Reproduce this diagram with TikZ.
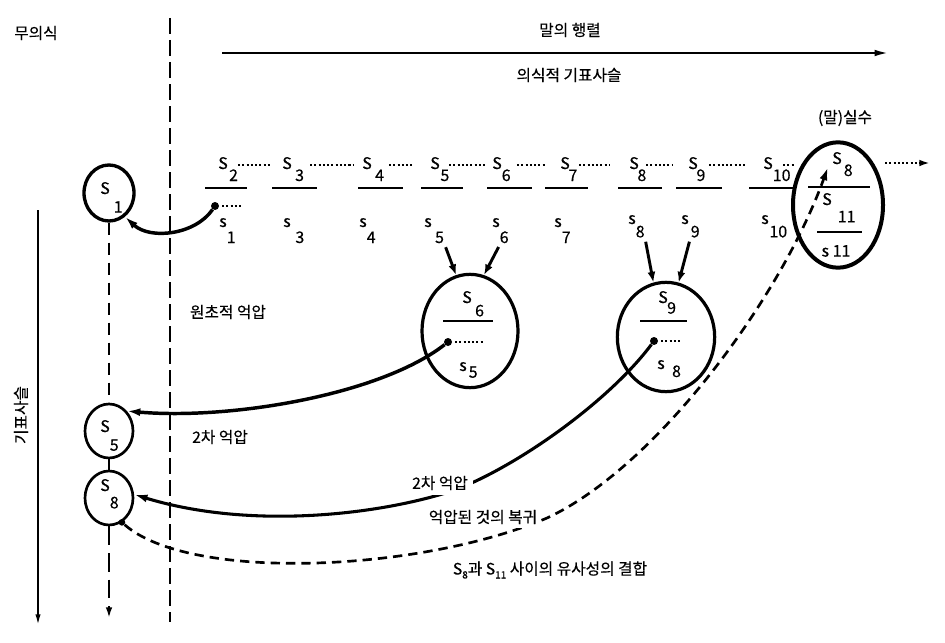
\documentclass[tikz,border=0pt]{standalone}
\usepackage{fontspec}
\setmainfont{Noto Sans CJK KR}[FakeBold=0.35]
\usetikzlibrary{arrows.meta,shapes.geometric}

% signifier label: letter, then a lowered index
\newcommand{\sig}[4][1pt]{#2\kern#1\raisebox{-#4}{#3}}
\newcommand{\low}[1]{\raisebox{-3pt}{\fontsize{7.5}{8}\selectfont #1}}

\tikzset{
  txt/.style={inner sep=0pt, font=\fontsize{11.8}{13}\selectfont},
  lab/.style={inner sep=0pt, anchor=base west, font=\fontsize{12}{13}\selectfont},
  blob/.style={draw, ellipse, line width=2pt, inner sep=0pt},
  bar/.style={line width=2.2pt},
  dotrow/.style={line width=1.6pt, dash pattern=on 1.6pt off 1.6pt},
  knob/.style={circle, fill, inner sep=0pt, minimum size=6pt},
  heavy/.style={line width=2.6pt, -{Latex[length=10pt,width=6pt]}},
  feed/.style={line width=2.2pt, shorten <=3pt, -{Latex[length=8pt,width=6pt]}},
  gap/.style={txt, fill=white, inner sep=3pt}
}

\begin{document}
\begin{tikzpicture}[x=0.75pt, y=-0.75pt]
    \useasboundingbox (0,0) rectangle (945,642);

    % headings
    \node[txt] (uncon) at (36,33) {무의식};
    \node[txt] (matrix) at (570,30) {말의 행렬};
    \node[txt] (chain) at (569,75) {의식적 기표사슬};
    \node[txt] (slipt) at (845,118) {(말)실수};
    \node[txt, rotate=90] (chainL) at (21,415) {기표사슬};

    \coordinate (m0) at (222,53);
    \coordinate (m1) at (888,53);
    \draw[line width=1.5pt, -{Latex[length=10pt,width=5pt]}] (m0) -- (m1);

    \coordinate (wall0) at (170,18);
    \coordinate (wall1) at (170,622);
    \draw[line width=1.3pt, dash pattern=on 12pt off 4.5pt] (wall0) -- (wall1);

    \coordinate (c0) at (38,210);
    \coordinate (c1) at (38,625);
    \draw[line width=1.3pt, -{Latex[length=8pt,width=4pt]}] (c0) -- (c1);

    % unconscious column
    \node[blob, line width=2.5pt, minimum width=37.5pt, minimum height=42pt] (u1) at (109,193) {};
    \node[blob, minimum width=36pt, minimum height=40.5pt] (u5) at (109,431) {};
    \node[blob, minimum width=36pt, minimum height=40.5pt] (u8) at (109,498) {};
    \node[lab] (u1t) at (100,194) {\sig[3pt]{S}{1}{14pt}};
    \node[lab] (u5t) at (100,432) {\sig[0pt]{S}{5}{14pt}};
    \node[lab] (u8t) at (100,491) {\sig[0pt]{S}{8}{13pt}};
    \coordinate (uend) at (109,618);

    \draw[line width=1.5pt, dash pattern=on 9pt off 6pt] (u1) -- (u5);
    \draw[line width=1.5pt] (u5) -- (u8);
    \draw[line width=1.5pt, dash pattern=on 14pt off 6pt, -{Latex[length=8pt,width=5pt]}] (u8) -- (uend);

    % conscious chain: upper signifiers
    \node[lab] (t2) at (218,169) {\sig{S}{2}{9pt}};
    \node[lab] (t3) at (282,169) {\sig[2.5pt]{S}{3}{9pt}};
    \node[lab] (t4) at (362,169) {\sig[2.5pt]{S}{4}{9pt}};
    \node[lab] (t5) at (430,169) {\sig[0.5pt]{S}{5}{9pt}};
    \node[lab] (t6) at (492,169) {\sig[0pt]{S}{6}{9pt}};
    \node[lab] (t7) at (560,169) {\sig[-1pt]{S}{7}{9pt}};
    \node[lab] (t8) at (629,169) {\sig[-1pt]{S}{8}{9pt}};
    \node[lab] (t9) at (688,169) {\sig[-1pt]{S}{9}{9pt}};
    \node[lab] (t10) at (763,169) {\sig[0pt]{S}{10}{9pt}};

    \draw[dotrow] (238,165) -- (272,165);
    \draw[dotrow] (310,165) -- (353,165);
    \draw[dotrow] (389,165) -- (412,165);
    \draw[dotrow] (449,165) -- (485,165);
    \draw[dotrow] (517,165) -- (545,165);
    \draw[dotrow] (579,165) -- (610,165);
    \draw[dotrow] (646,165) -- (673,165);
    \draw[dotrow] (709,165) -- (745,165);
    \draw[dotrow] (783,165) -- (794,165);

    % bars
    \draw[bar] (205,188) -- (247,188);
    \draw[bar] (272,188) -- (317,188);
    \draw[bar] (358,188) -- (403,188);
    \draw[bar] (421,188) -- (463,188);
    \draw[bar] (487,188) -- (532,188);
    \draw[bar] (545,188) -- (588,188);
    \draw[bar] (618,188) -- (662,188);
    \draw[bar] (676,188) -- (722,188);
    \draw[bar] (749,188) -- (795,188);

    % lower signifieds
    \node[lab] (b1) at (219,227) {\sig[0pt]{s}{1}{12pt}};
    \node[lab] (b3) at (283,227) {\sig[3.5pt]{s}{3}{12pt}};
    \node[lab] (b4) at (359,227) {\sig[0pt]{s}{4}{12pt}};
    \node[lab] (b5) at (424,227) {\sig[2.5pt]{s}{5}{12pt}};
    \node[lab] (b6) at (492,227) {\sig[0pt]{s}{6}{12pt}};
    \node[lab] (b7) at (554,227) {\sig[0pt]{s}{7}{12pt}};
    \node[lab] (b8) at (628,224) {\sig[0pt]{s}{8}{10pt}};
    \node[lab] (b9) at (681,224) {\sig[1.5pt]{s}{9}{10pt}};
    \node[lab] (b10) at (761,224) {\sig[0.5pt]{s}{10}{10pt}};

    \node[knob] (d1) at (215,206) {};
    \draw[dotrow] (222,206) -- (241,206);

    % condensed pairs
    \node[blob, line width=2.4pt, minimum width=72pt, minimum height=85pt] (e6) at (470,331) {};
    \node[lab] (e6t) at (462,303) {\sig[2.5pt]{S}{6}{10pt}};
    \draw[bar] (443,321) -- (493,321);
    \node[knob] (d6) at (448,342) {};
    \draw[dotrow] (455,342) -- (483,342);
    \node[lab] (e6b) at (459,371) {\sig[1.5pt]{s}{5}{5pt}};

    \node[blob, line width=2.4pt, minimum width=73pt, minimum height=82pt] (e9) at (666,337) {};
    \node[lab] (e9t) at (658,303) {\sig[-0.5pt]{S}{9}{8pt}};
    \draw[bar] (640,321) -- (687,321);
    \node[knob] (d9) at (654,341) {};
    \draw[dotrow] (661,341) -- (681,341);
    \node[lab] (e9b) at (657,369) {\sig[5.5pt]{s}{8}{6pt}};

    \draw[feed] (b5.south east) -- (e6.104);
    \draw[feed] (b6.south) -- (e6.76);
    \draw[feed] (b8.south east) -- (e9.103);
    \draw[feed] (b9.south) -- (e9.77);

    % the slip
    \node[blob, line width=3pt, minimum width=67.5pt, minimum height=94pt] (slip) at (838,205) {};
    \node[lab] (slip8) at (832,164) {\sig[1.5pt]{S}{8}{9pt}};
    \draw[bar] (808,187) -- (870,187);
    \node[lab] (slip11) at (822,205) {\sig[4.5pt]{S}{11}{13pt}};
    \draw[bar] (817,232) -- (862,232);
    \node[lab, anchor=center] (slipb) at (836,251) {s 11};
    \coordinate (onward) at (930,163);
    \draw[dotrow, -{Latex[length=8pt,width=5pt]}] (slip.east |- onward) -- (onward);

    % repressions and return
    \draw[heavy] (d1) .. controls (195,235) and (150,240) .. (u1.-56);
    \draw[heavy] (d6) .. controls (380,395) and (230,420) .. (u5.48);
    \draw[heavy, line width=2.3pt] (d9) .. controls (610,400) and (520,465) .. (455,490)
        .. controls (380,515) and (250,530) .. (u8.8);

    \node[knob, minimum size=5pt] (d8) at (u8.-62) {};
    \coordinate (hit) at (828,167);
    \draw[line width=2pt, dash pattern=on 7pt off 4.5pt, -{Latex[length=10pt,width=6pt]}]
        (d8) .. controls (190,582) and (420,572) .. (547,518)
        .. controls (655,468) and (780,300) .. (hit);

    % labels
    \node[txt] (prim) at (228,312) {원초적 억압};
    \node[txt] (sec1) at (220,437) {2차 억압};
    \node[gap, inner sep=4pt] (sec2) at (440,483) {2차 억압};
    \node[gap] (ret) at (483,517) {억압된 것의 복귀};
    \node[gap] (link) at (550,570) {S\low{8}과 S\low{11} 사이의 유사성의 결합};

\end{tikzpicture}
\end{document}
